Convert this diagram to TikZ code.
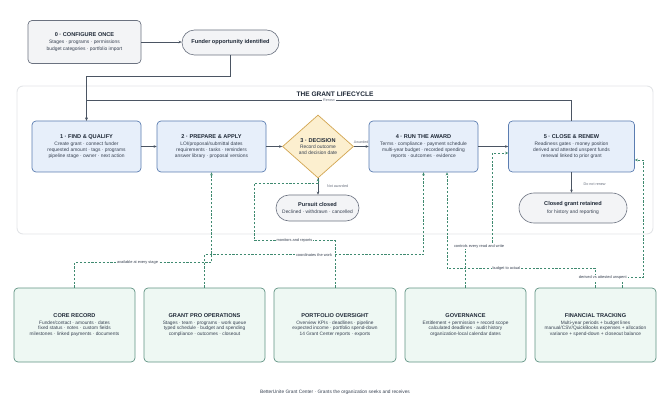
\documentclass[tikz,border=0pt]{standalone}
\usepackage{fontspec}
\setmainfont{Liberation Sans}
\usetikzlibrary{arrows.meta,shapes.geometric,calc}
\definecolor{ink}{HTML}{1F2937}
\definecolor{sub}{HTML}{374151}
\definecolor{muted}{HTML}{6B7280}
\definecolor{stageFill}{HTML}{E7EFFA}
\definecolor{stageLine}{HTML}{5B7DB1}
\definecolor{decFill}{HTML}{FCEFCF}
\definecolor{decLine}{HTML}{D2A550}
\definecolor{termFill}{HTML}{F3F4F6}
\definecolor{termLine}{HTML}{6B7280}
\definecolor{capFill}{HTML}{EEF8F3}
\definecolor{capLine}{HTML}{5F9282}
\definecolor{dashcol}{HTML}{3F8A70}
\definecolor{flow}{HTML}{4B5563}
\definecolor{frame}{HTML}{E3E5E8}
\newcommand{\ttl}[1]{{\bfseries\color{ink}\fontsize{5.6}{6.4}\selectfont #1}}
\tikzset{
  stagebox/.style={draw=stageLine, fill=stageFill, rounded corners=4pt, line width=0.7pt,
    minimum width=109pt, minimum height=51pt, inner sep=0pt, align=center,
    font=\fontsize{4.9}{6.3}\selectfont, text=sub},
  cfgbox/.style={draw=termLine, fill=termFill, rounded corners=4pt, line width=0.7pt,
    minimum width=113pt, minimum height=43pt, inner sep=0pt, align=center,
    font=\fontsize{4.9}{6.3}\selectfont, text=sub},
  decbox/.style={shape=diamond, draw=decLine, fill=decFill, line width=0.7pt,
    minimum width=71pt, minimum height=63pt, inner sep=0pt, align=center,
    font=\fontsize{4.9}{6.0}\selectfont, text=sub},
  termbox/.style={draw=termLine, fill=termFill, line width=0.6pt, inner sep=0pt, align=center,
    font=\fontsize{4.9}{6.3}\selectfont, text=sub},
  capbox/.style={draw=capLine, fill=capFill, rounded corners=4pt, line width=0.7pt,
    minimum width=121pt, minimum height=74pt, inner sep=0pt, align=center,
    font=\fontsize{4.8}{5.6}\selectfont, text=sub},
  flowline/.style={draw=flow, line width=0.7pt, -{Stealth[length=3pt,width=2.6pt]}},
  dashline/.style={draw=dashcol, line width=0.7pt, dash pattern=on 2.2pt off 1.6pt,
    -{Stealth[length=3pt,width=2.6pt]}},
  grylbl/.style={font=\fontsize{3.7}{4}\selectfont, text=muted, inner sep=0.8pt},
  dlbl/.style={font=\fontsize{3.9}{4.2}\selectfont, text=sub, fill=white, inner sep=1pt},
}
\begin{document}
\begin{tikzpicture}[x=1pt,y=-1pt]
\useasboundingbox (0,0) rectangle (670,409);
% lifecycle frame
\node[draw=frame, fill=white, line width=0.9pt, rounded corners=6pt, minimum width=636pt,
  minimum height=148pt, inner sep=0pt] (cycle) at (335,160) {};
\node[font=\bfseries\fontsize{6.6}{7}\selectfont, text=ink] (cycletitle) at (335,94.5) {THE GRANT LIFECYCLE};

\node[cfgbox] (config) at (84.5,42) {\ttl{0 · CONFIGURE ONCE}\\[0.6pt]Stages · programs · permissions\\budget categories · portfolio import};
\node[termbox, rounded corners=12.5pt, minimum width=97pt, minimum height=25pt] (funder) at (230.5,42.5)
  {\ttl{Funder opportunity identified}};

\node[stagebox] (find) at (86.5,146.5) {\ttl{1 · FIND \& QUALIFY}\\[0.6pt]Create grant · connect funder\\requested amount · tags · programs\\pipeline stage · owner · next action};
\node[stagebox] (prep) at (211.5,146.5) {\ttl{2 · PREPARE \& APPLY}\\[0.6pt]LOI/proposal/submittal dates\\requirements · tasks · reminders\\answer library · proposal versions};
\node[decbox] (dec) at (318,146.5) {\ttl{3 · DECISION}\\[0.6pt]Record outcome\\and decision date};
\node[stagebox] (run) at (423.5,146.5) {\ttl{4 · RUN THE AWARD}\\[0.6pt]Terms · compliance · payment schedule\\multi-year budget · recorded spending\\reports · outcomes · evidence};
\node[stagebox, minimum width=126pt] (close) at (571.5,146.5) {\ttl{5 · CLOSE \& RENEW}\\[0.6pt]Readiness gates · money position\\derived and attested unspent funds\\renewal linked to prior grant};

\node[termbox, rounded corners=13pt, minimum width=83pt, minimum height=26pt] (pursuit) at (317.5,208)
  {\ttl{Pursuit closed}\\[1pt]Declined · withdrawn · cancelled};
\node[termbox, rounded corners=15pt, minimum width=108pt, minimum height=30pt] (retained) at (573,208)
  {\ttl{Closed grant retained}\\[1pt]for history and reporting};

\node[capbox] (core) at (74.5,325) {\ttl{CORE RECORD}\\[0.8pt]Funder/contact · amounts · dates\\fixed status · notes · custom fields\\milestones · linked payments · documents};
\node[capbox] (gpo) at (204.5,325) {\ttl{GRANT PRO OPERATIONS}\\[0.8pt]Stages · team · programs · work queue\\typed schedule · budget and spending\\compliance · outcomes · closeout};
\node[capbox, minimum width=122pt] (portfolio) at (335,325) {\ttl{PORTFOLIO OVERSIGHT}\\[0.8pt]Overview KPIs · deadlines · pipeline\\expected income · portfolio spend-down\\14 Grant Center reports · exports};
\node[capbox] (gov) at (465.5,325) {\ttl{GOVERNANCE}\\[0.8pt]Entitlement + permission + record scope\\calculated deadlines · audit history\\organization-local calendar dates};
\node[capbox] (fin) at (595.5,325) {\ttl{FINANCIAL TRACKING}\\[0.8pt]Multi-year periods + budget lines\\manual/CSV/QuickBooks expenses + allocation\\variance + spend-down + closeout balance};

\node[font=\fontsize{4.8}{5}\selectfont, text=sub] (caption) at (335,392) {BetterUnite Grant Center · Grants the organization seeks and receives};

% solid flow
\draw[flowline] (config.east) -- (config.east -| funder.west);
\draw[flowline] (funder.south) -- ++(0,21) -| (find.north);
\draw[flowline] (close.north) -- ++(0,-20) -| node[pos=0.25, grylbl, fill=white] {Renew} (find.north);
\draw[flowline] (find) -- (prep);
\draw[flowline] (prep) -- (dec);
\draw[flowline] (dec) -- node[grylbl, above=1.5pt] {Awarded} (run);
\draw[flowline] (dec.south) -- node[grylbl, right=8pt] {Not awarded} (dec.south |- pursuit.north);
\draw[flowline] (run) -- (close);
\draw[flowline] (close.south) -- node[grylbl, right=11pt, yshift=-1.5pt] {Do not renew} (close.south |- retained.north);

% dashed capability links
\draw[dashline] (core.north) -- ++(0,-25) -| node[pos=0.23, dlbl] {available at every stage} (prep.south);
\draw[dashline] (gpo.north) -- ++(0,-33) -| node[pos=0.25, dlbl] {coordinates the work} (run.south);
\draw[dashline] (portfolio.north) -- ++(0,-47) -| node[pos=0.25, dlbl] {monitors and reports} ++(-81,-57) -| (dec.south);
\draw[dashline] (gov.north) -- ++(0,-41) -| node[pos=0.25, dlbl] {controls every read and write} ([xshift=-15.5pt,yshift=-6.5pt]close.west) -- ([yshift=-6.5pt]close.west);
\draw[dashline] (fin.north) -- ++(0,-19) -| node[pos=0.3, dlbl] {budget to actual} ([xshift=23.5pt]run.south);
\draw[dashline] ([xshift=26.5pt]fin.north) -- ++(0,-10) -| node[pos=0, dlbl, anchor=east, xshift=6pt] {derived vs attested unspent} ([xshift=8.5pt,yshift=-13.5pt]close.east) -- ([yshift=-13.5pt]close.east);
\end{tikzpicture}
\end{document}
